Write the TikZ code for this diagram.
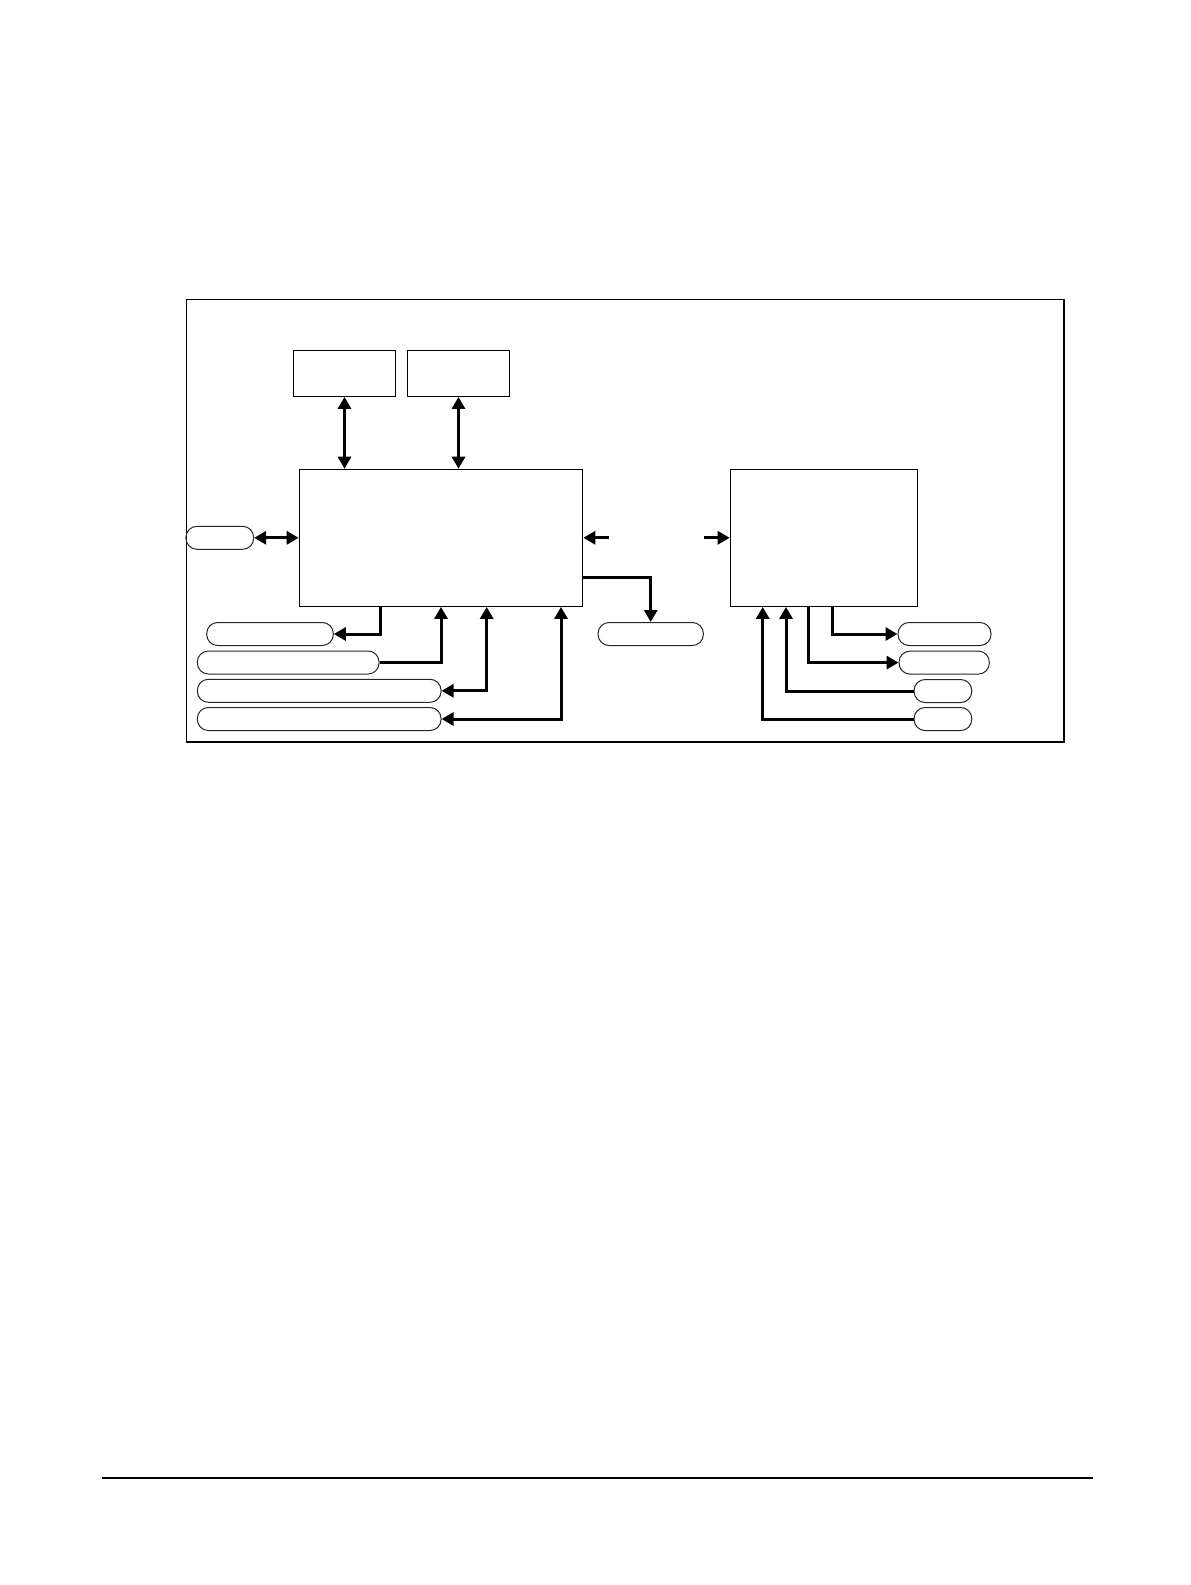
\documentclass[tikz,border=0pt]{standalone}
\usepackage{tikz}
\usetikzlibrary{arrows.meta}

\tikzset{
  blk/.style={draw, line width=1.2pt, inner sep=0pt},
  pill/.style={draw=black!85, line width=1pt, rounded corners=11pt, minimum height=23pt, inner sep=0pt},
  bus/.style={line width=3pt, >={Triangle[length=12pt,width=13pt]}}
}

\begin{document}
\begin{tikzpicture}[x=1pt,y=-1pt]
\useasboundingbox (0,0) rectangle (1191,1585);

% Outer frame
\node[blk, minimum width=877.7pt, minimum height=442.7pt] (frame) at (625.2,520.7) {};

% Memory blocks and main blocks
\node[blk, minimum width=102.4pt, minimum height=46pt] (memA) at (344.5,373.3) {};
\node[blk, minimum width=102.4pt, minimum height=46pt] (memB) at (458.5,373.3) {};
\node[blk, minimum width=283.4pt, minimum height=137pt] (cpu) at (441,537.8) {};
\node[blk, minimum width=187.4pt, minimum height=137pt] (ctrl) at (824,537.8) {};

% Ports
\node[pill, minimum width=67.7pt] (portL) at (219.8,537.8) {};
\node[pill, minimum width=126.6pt] (pL1) at (270,634) {};
\node[pill, minimum width=181.7pt] (pL2) at (288.2,662.5) {};
\node[pill, minimum width=243.7pt] (pL3) at (319.2,690.8) {};
\node[pill, minimum width=243.7pt] (pL4) at (319.2,719) {};
\node[pill, minimum width=105.3pt] (pMid) at (650.7,634) {};
\node[pill, minimum width=93pt] (pR1) at (944.5,634) {};
\node[pill, minimum width=90.3pt] (pR2) at (944.2,662.6) {};
\node[pill, minimum width=57.7pt] (pR3) at (942.9,691) {};
\node[pill, minimum width=57.7pt] (pR4) at (942.9,719) {};

% Free ends between the blocks
\coordinate (gapL) at (609,537.8);
\coordinate (gapR) at (704,537.8);

% Memory buses
\draw[bus, <->] (memA.south) -- (memA.south |- cpu.north);
\draw[bus, <->] (memB.south) -- (memB.south |- cpu.north);
\draw[bus, <->] (portL.east) -- (cpu.west);

% Link between blocks
\draw[bus, ->] (gapL) -- (cpu.east);
\draw[bus, ->] (gapR) -- (ctrl.west);
\draw[bus, ->] ([yshift=-39.2pt]cpu.east) -| (pMid.north);

% Lines below the main block
\draw[bus, ->] ([xshift=-60.7pt]cpu.south) |- (pL1.east);
\draw[bus, ->] (pL2.east) -| (cpu.south);
\draw[bus, <->] ([xshift=45.7pt]cpu.south) |- (pL3.east);
\draw[bus, <->] ([xshift=120pt]cpu.south) |- (pL4.east);

% Lines below the controller
\draw[bus, ->] ([xshift=8.3pt]ctrl.south) |- (pR1.west);
\draw[bus, ->] ([xshift=-16pt]ctrl.south) |- (pR2.west);
\draw[bus, ->] (pR3.west) -| ([xshift=-38pt]ctrl.south);
\draw[bus, ->] (pR4.west) -| ([xshift=-61.3pt]ctrl.south);

% Page rule
\draw[line width=1.3pt] (102,1478) -- (1093,1478);
\end{tikzpicture}
\end{document}
